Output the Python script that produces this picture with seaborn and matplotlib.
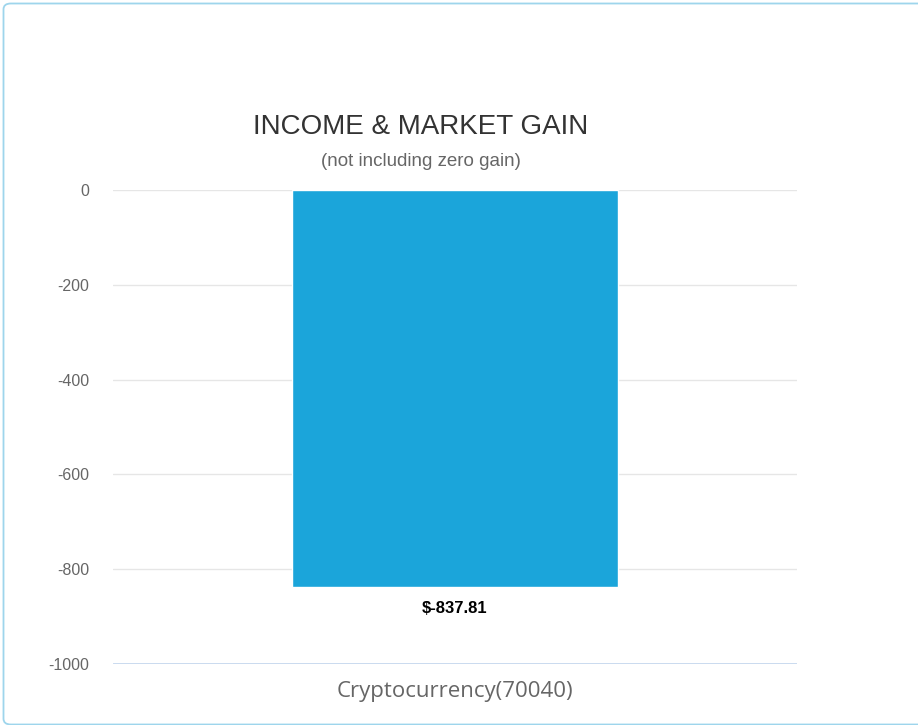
import matplotlib
matplotlib.use("Agg")
import matplotlib.pyplot as plt
import seaborn as sns
import pandas as pd
from matplotlib.patches import FancyBboxPatch

# Data
categories = ["Cryptocurrency(70040)"]
gains = [-837.81]
y_ticks = [0, -200, -400, -600, -800, -1000]

df = pd.DataFrame({"category": categories, "gain": gains})

sns.set_theme(style="white")
plt.rcParams["font.family"] = ["Liberation Sans", "DejaVu Sans"]

W, H = 918, 725
fig = plt.figure(figsize=(W / 100, H / 100), dpi=100)
fig.patch.set_facecolor("white")

# Card outline
card = FancyBboxPatch((3.5 / W, 1 - 724.5 / H), (940 - 3.5) / W, (724.5 - 3.5) / H,
                      boxstyle="round,pad=0,rounding_size=0.008",
                      transform=fig.transFigure, facecolor="none",
                      edgecolor="#9ed5ec", linewidth=1.3, clip_on=False)
fig.patches.append(card)

left, right = 113 / W, 797 / W
top, bottom = 1 - 190 / H, 1 - 664 / H
ax = fig.add_axes([left, bottom, right - left, top - bottom])

sns.barplot(data=df, x="category", y="gain", color="#1ba5da", width=0.478,
            saturation=1, ax=ax)
ax.set_xlim(-0.5, 0.5)
ax.set_ylim(-1000, 0)
ax.set_yticks(y_ticks)
ax.set_yticklabels([str(t) for t in y_ticks], color="#666666", fontsize=11.5)
ax.tick_params(axis="y", length=0, pad=17)
ax.tick_params(axis="x", length=0, pad=12)
ax.set_xticklabels(categories, color="#666666", fontsize=16,
                   fontfamily="Open Sans")
ax.set_xlabel("")
ax.set_ylabel("")

for t in y_ticks:
    ax.axhline(t, color="#e6e6e6", linewidth=1, zorder=0)
ax.axhline(-1000, color="#c6d8ee", linewidth=2, zorder=1)

for s in ax.spines.values():
    s.set_visible(False)

for i, v in enumerate(gains):
    ax.annotate(f"$-{abs(v):.2f}", xy=(i, v), xytext=(0, -15.5),
                textcoords="offset points", ha="center", va="center",
                fontsize=12, fontweight="bold", color="black")

fig.text(421 / W, 1 - 127 / H, "INCOME & MARKET GAIN", ha="center",
         va="center", fontsize=20, color="#333333")
fig.text(421 / W, 1 - 161 / H, "(not including zero gain)", ha="center",
         va="center", fontsize=13.5, color="#666666")

fig.savefig("out.png", dpi=100, facecolor="white")
